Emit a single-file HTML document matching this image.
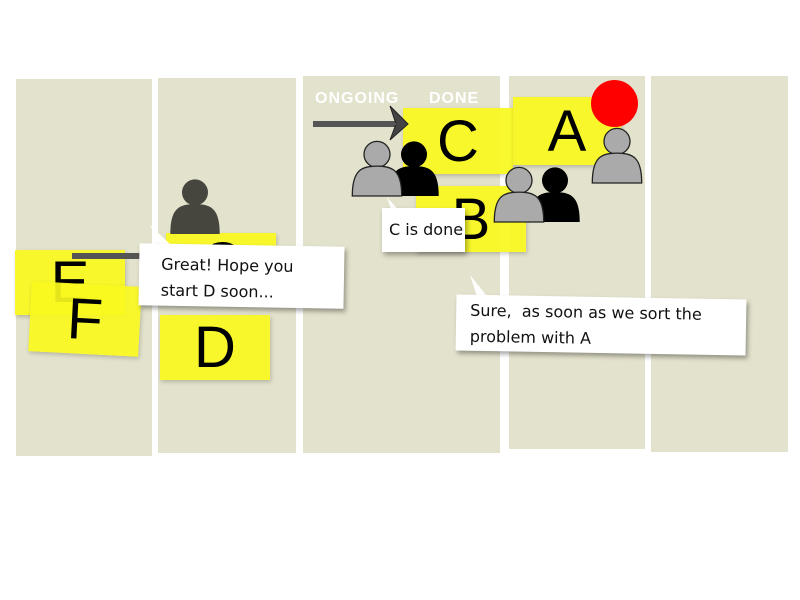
<!DOCTYPE html><html><head><style>
body{margin:0;width:800px;height:600px;background:#fff;position:relative;overflow:hidden;font-family:"Liberation Sans",sans-serif}
.c{position:absolute;background:#e3e2cc}
.s{position:absolute;background:rgba(248,248,30,.92);box-shadow:1px 2px 4px rgba(0,0,0,.2);font-size:58px;display:flex;align-items:center;justify-content:center;color:#000}
.b{position:absolute;background:#fff;box-shadow:2px 3px 5px rgba(0,0,0,.35);font-family:"Comic Sans MS","DejaVu Sans",sans-serif;font-size:16px;color:#111;line-height:26px}
.lbl{position:absolute;color:#fff;font-weight:bold;font-size:16px;letter-spacing:1px}
</style></head><body>
<div class="c" style="left:16px;top:79px;width:136px;height:377px"></div>
<div class="c" style="left:158px;top:78px;width:138px;height:375px"></div>
<div class="c" style="left:303px;top:76px;width:197px;height:377px"></div>
<div class="c" style="left:509px;top:76px;width:136px;height:373px"></div>
<div class="c" style="left:651px;top:76px;width:137px;height:376px"></div>
<div class="lbl" style="left:315px;top:90px">ONGOING</div>
<div class="lbl" style="left:429px;top:90px">DONE</div>
<div class="s" style="left:166px;top:233px;width:110px;height:60px">C</div>
<div class="s" style="left:15px;top:250px;width:110px;height:65px">E</div>
<div class="s" style="left:30px;top:284px;width:110px;height:70px;transform:rotate(3deg)">F</div>
<div style="position:absolute;left:72px;top:253px;width:70px;height:6px;background:#555"></div>
<div class="s" style="left:160px;top:315px;width:110px;height:65px">D</div>
<div class="s" style="left:403px;top:108px;width:110px;height:66px">C</div>
<div class="s" style="left:513px;top:97px;width:108px;height:68px">A</div>
<div class="s" style="left:416px;top:186px;width:110px;height:66px">B</div>
<div style="position:absolute;left:591px;top:80px;width:47px;height:47px;border-radius:50%;background:#f00"></div>
<svg width="800" height="600" style="position:absolute;left:0;top:0">
<defs><g id="p"><circle cx="0" cy="-12" r="10"/><path d="M-19,20 C-19,0 -12,-3 0,-3 C12,-3 19,0 19,20 Z"/></g></defs>
<line x1="313" y1="124" x2="395" y2="124" stroke="#555" stroke-width="6"/>
<path d="M390,106 L408,124 L390,140 L396,124 Z" fill="#444" stroke="#222"/>
<g transform="translate(195,208) scale(1.3)"><use href="#p" fill="#46453e"/></g>
<g transform="translate(414,170) scale(1.3)"><use href="#p" fill="#000"/></g>
<g transform="translate(377,170) scale(1.3)"><use href="#p" fill="#aaa" stroke="#222"/></g>
<g transform="translate(555,196) scale(1.3)"><use href="#p" fill="#000"/></g>
<g transform="translate(519,196) scale(1.3)"><use href="#p" fill="#aaa" stroke="#222"/></g>
<g transform="translate(617,157) scale(1.3)"><use href="#p" fill="#aaa" stroke="#222"/></g>
<path d="M150,225 L160,246 L172,246 Z" fill="#fff"/>
<path d="M387,197 L392,212 L400,212 Z" fill="#fff"/>
<path d="M470,275 L478,300 L490,300 Z" fill="#fff"/>
</svg>
<div class="b" style="left:139px;top:245px;width:205px;height:62px;padding:8px 0 0 22px;box-sizing:border-box;transform:rotate(1deg)">Great! Hope you<br>start D soon...</div>
<div class="b" style="left:382px;top:208px;width:83px;height:44px;padding:9px 0 0 7px;box-sizing:border-box">C is done</div>
<div class="b" style="left:456px;top:297px;width:290px;height:56px;padding:3px 0 0 14px;box-sizing:border-box;transform:rotate(1deg)">Sure,&nbsp; as soon as we sort the<br>problem with A</div>
</body></html>
